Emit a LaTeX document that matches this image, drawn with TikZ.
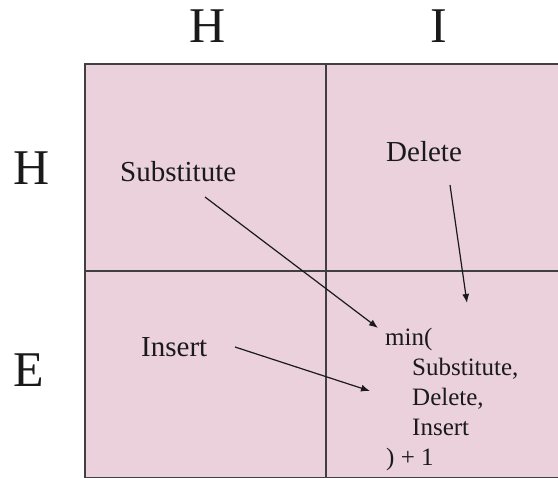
\documentclass[tikz,border=0pt]{standalone}
\usepackage{fontspec}
\setmainfont{Liberation Serif}
\usetikzlibrary{arrows.meta}
\definecolor{cellfill}{HTML}{EAD1DC}
\definecolor{gridline}{HTML}{404040}
\definecolor{ink}{HTML}{1A1A1A}
\begin{document}
\begin{tikzpicture}[x=1pt,y=-1pt,
  cell/.style={draw=gridline, fill=cellfill, line width=1.5pt, minimum width=241pt, minimum height=207pt, inner sep=0pt, outer sep=0pt, anchor=north west},
  head/.style={font=\fontsize{50}{60}\selectfont, text=ink, inner sep=0pt, anchor=base},
  rowhead/.style={font=\fontsize{50}{60}\selectfont, text=ink, inner sep=0pt, anchor=base west},
  oplabel/.style={font=\fontsize{29}{35}\selectfont, text=ink, inner sep=0pt, anchor=base west},
  formula/.style={font=\fontsize{25}{30}\selectfont, text=ink, inner sep=0pt, anchor=base west},
  arr/.style={draw=ink, line width=1.2pt, -{Latex[length=9pt,width=7pt]}}]
\useasboundingbox (0,0) rectangle (558,478);
% cells
\node[cell] (cHH) at (85,64) {};
\node[cell] (cHI) at (326,64) {};
\node[cell] (cEH) at (85,271) {};
\node[cell] (cEI) at (326,271) {};
% headers
\node[head] (colH) at (208,43) {H};
\node[head] (colI) at (439,43) {I};
\node[rowhead] (rowH) at (13,185) {H};
\node[rowhead] (rowE) at (13,387) {E};
% operation labels
\node[oplabel] (sub) at (120,182) {Substitute};
\node[oplabel] (del) at (386,162) {Delete};
\node[oplabel] (ins) at (141,357) {Insert};
% formula
\node[formula] (f1) at (385,346) {min(};
\node[formula] (f2) at (412,376) {Substitute,};
\node[formula] (f3) at (412,406) {Delete,};
\node[formula] (f4) at (412,436) {Insert};
\node[formula] (f5) at (386,466) {) + 1};
% arrow ends
\coordinate (subS) at (205,197);
\coordinate (subE) at (378,328);
\coordinate (delS) at (450,185);
\coordinate (delE) at (467,303);
\coordinate (insS) at (235,347);
\coordinate (insE) at (370,391);
\draw[arr] (subS) -- (subE);
\draw[arr] (delS) -- (delE);
\draw[arr] (insS) -- (insE);
\end{tikzpicture}
\end{document}
